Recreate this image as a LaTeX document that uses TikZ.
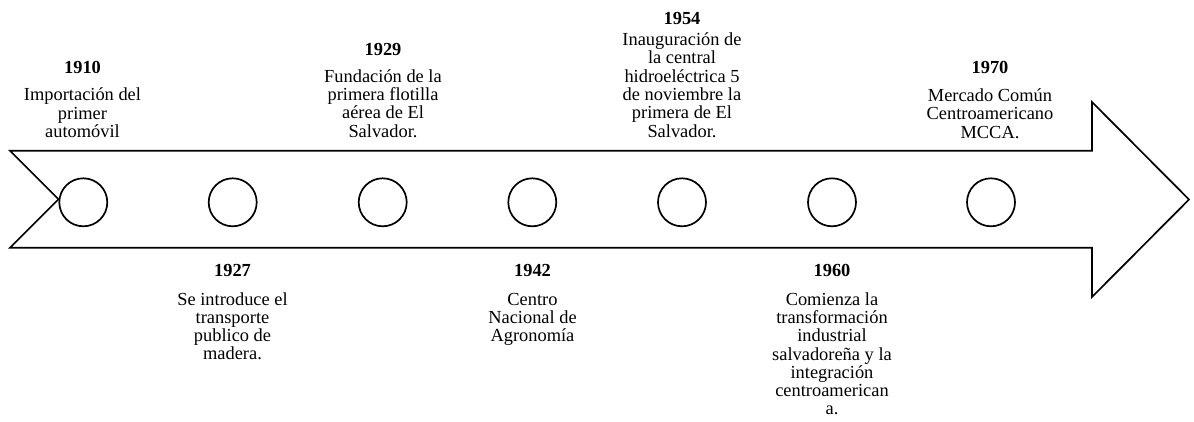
\documentclass[tikz,border=0pt]{standalone}
\usepackage{fontspec}
\setmainfont{Liberation Serif}
\newcommand{\evtxt}[1]{\begin{tabular}[t]{@{}c@{}}#1\end{tabular}}
\begin{document}
\begin{tikzpicture}[x=1pt,y=-1pt,
  every node/.style={inner sep=0pt, outer sep=0pt, font=\fontsize{18.4}{18.3}\selectfont},
  yr/.style={anchor=base, font=\fontsize{18.4}{18.3}\selectfont\bfseries},
  txt/.style={anchor=base},
  dot/.style={circle, draw, line width=1.7pt, minimum size=48pt},
  arrowbody/.style={draw, line width=1.7pt, line join=miter}]
\useasboundingbox (0,0) rectangle (1194,421);
% arrow
\draw[arrowbody] (10,150.7) -- (1092,150.7) -- (1092,102) -- (1189,199.5)
  -- (1092,297) -- (1092,247.7) -- (10,247.7) -- (58.5,199.2) -- cycle;
% circles
\node[dot] (c1) at (83.3,202.3) {};
\node[dot] (c2) at (232.7,202.3) {};
\node[dot] (c3) at (382.7,202.3) {};
\node[dot] (c4) at (532.3,202.3) {};
\node[dot] (c5) at (682,202.3) {};
\node[dot] (c6) at (832,202.3) {};
\node[dot] (c7) at (991,202.3) {};
% top events
\node[yr] (y1910) at (82.5,73) {1910};
\node[txt] (t1910) at (82.5,100.7) {\evtxt{Importación del\\primer\\automóvil}};
\node[yr] (y1929) at (383,55) {1929};
\node[txt] (t1929) at (383,82.1) {\evtxt{Fundación de la\\primera flotilla\\aérea de El\\Salvador.}};
\node[yr] (y1954) at (682,24.5) {1954};
\node[txt] (t1954) at (682,45.5) {\evtxt{Inauguración de\\la central\\hidroeléctrica 5\\de noviembre la\\primera de El\\Salvador.}};
\node[yr] (y1970) at (990,73) {1970};
\node[txt] (t1970) at (990,101.5) {\evtxt{Mercado Común\\Centroamericano\\MCCA.}};
% bottom events
\node[yr] (y1927) at (232.5,276.7) {1927};
\node[txt] (t1927) at (232.5,305) {\evtxt{Se introduce el\\transporte\\publico de\\madera.}};
\node[yr] (y1942) at (532.5,276.7) {1942};
\node[txt] (t1942) at (532.5,305) {\evtxt{Centro\\Nacional de\\Agronomía}};
\node[yr] (y1960) at (832,276.7) {1960};
\node[txt] (t1960) at (832,305) {\evtxt{Comienza la\\transformación\\industrial\\salvadoreña y la\\integración\\centroamerican\\a.}};
\end{tikzpicture}
\end{document}
